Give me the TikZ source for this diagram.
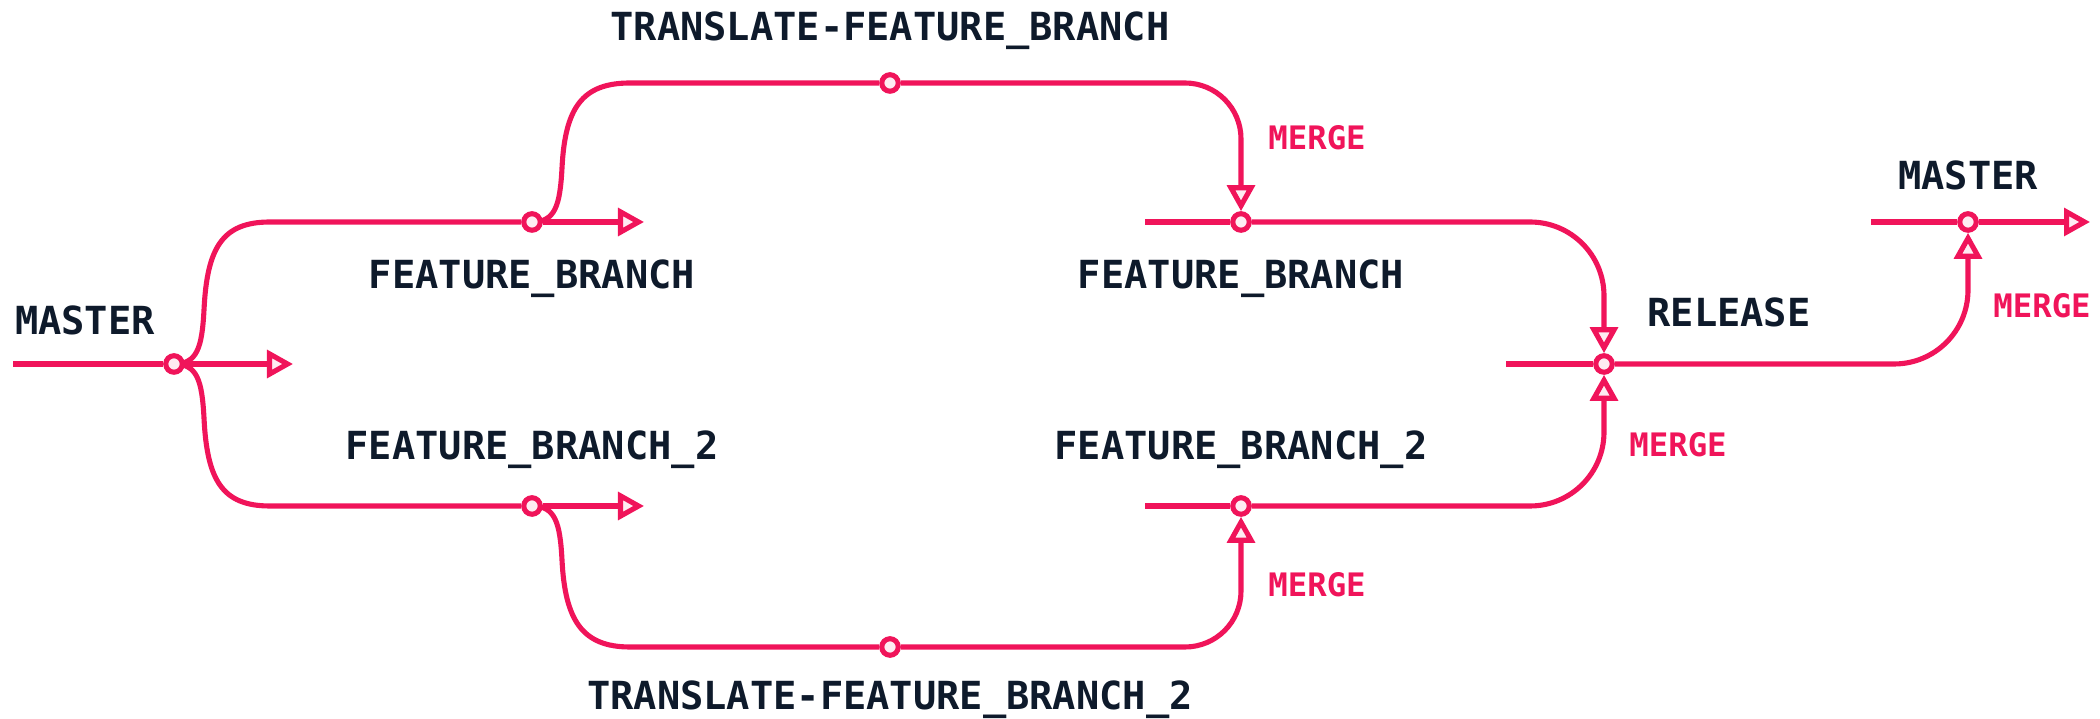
\documentclass[tikz,border=0pt]{standalone}
\usepackage{fontspec}
\newfontfamily\labfont{DejaVu Sans Mono}
\usetikzlibrary{arrows.meta}
\definecolor{gitpink}{HTML}{F0145A}
\definecolor{ink}{HTML}{0E1A2B}
\pgfdeclarelayer{bg}
\pgfsetlayers{bg,main}
\tikzset{
  branch/.style={draw=gitpink, line width=1.45pt},
  flow/.style={-{Triangle[length=7.4pt,width=7.8pt,fill=gitpink!8]}},
  dot/.style={circle, draw=gitpink, fill=gitpink!8, line width=1.45pt, minimum size=0.165cm, inner sep=0pt},
  lbl/.style={text=ink, font=\labfont\bfseries\fontsize{11}{13}\selectfont, anchor=base},
  mrg/.style={text=gitpink, font=\labfont\bfseries\fontsize{9.2}{11}\selectfont, anchor=base}
}
\begin{document}
\begin{tikzpicture}[x=0.01cm,y=-0.01cm]
\useasboundingbox (0,0) rectangle (2100,719);
% commit circles
\node[dot] (m1) at (174,364) {};
\node[dot] (f1) at (532,222) {};
\node[dot] (t1) at (890,83) {};
\node[dot] (f1r) at (1241,222) {};
\node[dot] (f2) at (532,506) {};
\node[dot] (t2) at (890,647) {};
\node[dot] (f2r) at (1241,506) {};
\node[dot] (r) at (1604,364) {};
\node[dot] (m2) at (1968,222) {};
% free ends
\coordinate (m0) at (13,364);
\coordinate (m1e) at (293,364);
\coordinate (f1e) at (644,222);
\coordinate (f2e) at (644,506);
\coordinate (f1s) at (1145,222);
\coordinate (f2s) at (1145,506);
\coordinate (rs) at (1506,364);
\coordinate (m2s) at (1871,222);
\coordinate (m2e) at (2090,222);
\begin{pgfonlayer}{bg}
% master
\draw[branch] (m0) -- (m1);
\draw[branch,flow] (m1) -- (m1e);
% master -> feature branches
\draw[branch] (m1.center) .. controls (197,364) and (202,348) .. (204,310) .. controls (207,248) and (222,222) .. (270,222) -- (f1);
\draw[branch,flow] (f1) -- (f1e);
\draw[branch] (m1.center) .. controls (197,364) and (202,380) .. (204,418) .. controls (207,480) and (222,506) .. (270,506) -- (f2);
\draw[branch,flow] (f2) -- (f2e);
% translate branches
\draw[branch] (f1.center) .. controls (555,222) and (560,206) .. (562,168) .. controls (565,108) and (582,83) .. (630,83) -- (t1);
\draw[branch,flow] (t1) -- (1185,83) .. controls (1216,83) and (1241,108) .. (1241,139) -- (f1r);
\draw[branch] (f2.center) .. controls (555,506) and (560,522) .. (562,560) .. controls (565,620) and (582,647) .. (630,647) -- (t2);
\draw[branch,flow] (t2) -- (1185,647) .. controls (1216,647) and (1241,622) .. (1241,591) -- (f2r);
% right feature lines into release
\draw[branch] (f1s) -- (f1r);
\draw[branch,flow] (f1r) -- (1530,222) .. controls (1571,222) and (1604,255) .. (1604,296) -- (r);
\draw[branch] (f2s) -- (f2r);
\draw[branch,flow] (f2r) -- (1530,506) .. controls (1571,506) and (1604,473) .. (1604,432) -- (r);
% release into master
\draw[branch] (rs) -- (r);
\draw[branch,flow] (r) -- (1894,364) .. controls (1935,364) and (1968,331) .. (1968,290) -- (m2);
\draw[branch] (m2s) -- (m2);
\draw[branch,flow] (m2) -- (m2e);
\end{pgfonlayer}
% labels
\node[lbl] (lm1) at (85,335) {MASTER};
\node[lbl] (lf1) at (532,289) {FEATURE\_BRANCH};
\node[lbl] (lt1) at (890,41) {TRANSLATE-FEATURE\_BRANCH};
\node[lbl] (lf1r) at (1241,289) {FEATURE\_BRANCH};
\node[lbl] (lf2) at (532,460) {FEATURE\_BRANCH\_2};
\node[lbl] (lf2r) at (1241,460) {FEATURE\_BRANCH\_2};
\node[lbl] (lt2) at (890,709) {TRANSLATE-FEATURE\_BRANCH\_2};
\node[lbl] (lr) at (1729,327) {RELEASE};
\node[lbl] (lm2) at (1968,190) {MASTER};
\node[mrg] (g1) at (1317,150) {MERGE};
\node[mrg] (g2) at (1678,457) {MERGE};
\node[mrg] (g3) at (1317,597) {MERGE};
\node[mrg] (g4) at (2042,318) {MERGE};
\end{tikzpicture}
\end{document}
